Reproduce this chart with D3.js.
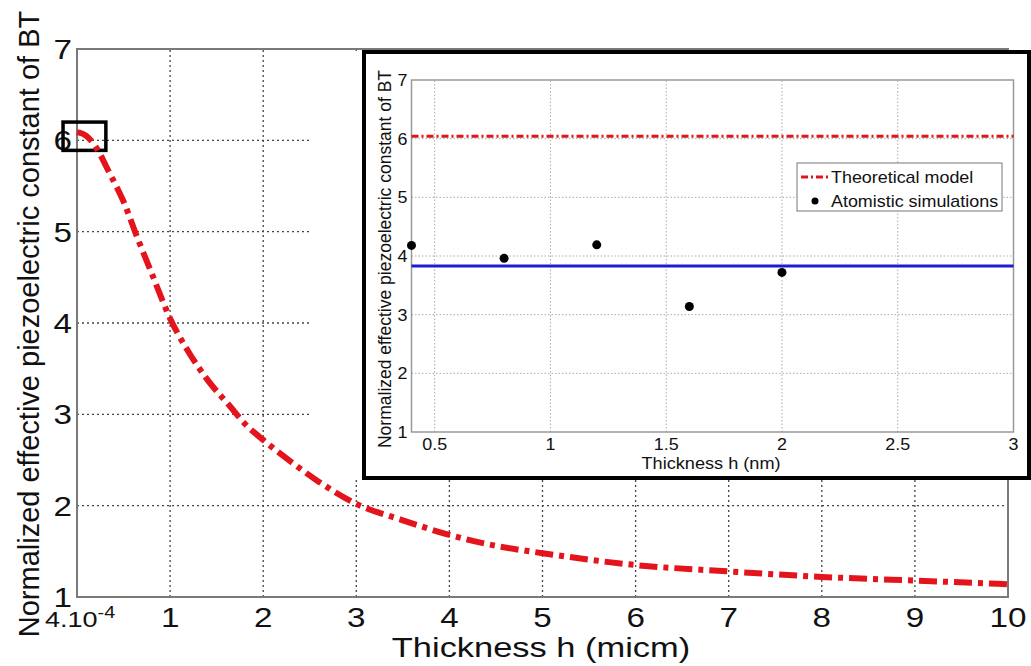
<!DOCTYPE html>
<html>
<head>
<meta charset="utf-8">
<script src="https://cdn.jsdelivr.net/npm/d3@7"></script>
<style>
  html, body { margin: 0; padding: 0; background: #fff; }
  svg { display: block; }
</style>
</head>
<body>
<div id="chart"></div>
<script>
// main curve: normalized piezo constant vs thickness (micrometres)
const thickness = [0.0004, 0.1, 0.2, 0.35, 0.5, 0.65, 0.8, 1.0, 1.2, 1.4, 1.65, 1.8, 2.0, 2.3, 2.6, 3.0, 3.5, 4.0, 4.5, 5.0, 6.0, 7.0, 8.0, 9.0, 10.0];
const piezo = [6.09, 6.05, 5.93, 5.64, 5.33, 4.93, 4.55, 4.05, 3.68, 3.38, 3.08, 2.9, 2.72, 2.48, 2.26, 2.02, 1.84, 1.68, 1.56, 1.48, 1.35, 1.28, 1.22, 1.18, 1.14];

// inset: atomistic simulations (nm)
const simThickness = [0.4, 0.8, 1.2, 1.6, 2.0];
const simPiezo = [4.18, 3.96, 4.19, 3.14, 3.72];
const theoryLevel = 6.04;
const meanLevel = 3.83;

// zoom box drawn on the main plot (data coords)
const zoomBoxX = [-0.15, 0.31];
const zoomBoxY = [5.89, 6.2];

// ticks
const mainXTicks = [0, 1, 2, 3, 4, 5, 6, 7, 8, 9, 10];
const mainYTicks = [1, 2, 3, 4, 5, 6, 7];
const insetXTicks = [0.5, 1, 1.5, 2, 2.5, 3];
const insetYTicks = [1, 2, 3, 4, 5, 6, 7];

const FONT = "Arial, 'Liberation Sans', sans-serif";
const W = 1031, H = 666;

const svg = d3.select("#chart").append("svg")
  .attr("width", W)
  .attr("height", H);

// the source picture is stretched sideways, so flat text gets a horizontal scale
function label(g, x, y, str, size, anchor, sx, rotate) {
  return g.append("text")
    .attr("transform", rotate
      ? `translate(${x},${y}) rotate(-90)`
      : `translate(${x},${y}) scale(${sx},1)`)
    .attr("text-anchor", anchor)
    .attr("font-family", FONT)
    .attr("font-size", size)
    .attr("fill", "#111")
    .text(str);
}

// ---------- main plot ----------
const x = d3.scaleLinear().domain([0, 10]).range([77, 1008]);
const y = d3.scaleLinear().domain([1, 7]).range([597, 49]);

const grid = svg.append("g")
  .attr("stroke", "#444")
  .attr("stroke-width", 1.3)
  .attr("stroke-dasharray", "2,3");

grid.selectAll(".vx")
  .data(mainXTicks.slice(1, -1))
  .enter().append("line")
  .attr("x1", d => x(d)).attr("x2", d => x(d))
  .attr("y1", y(1)).attr("y2", y(7));

grid.selectAll(".hy")
  .data(mainYTicks.slice(1, -1))
  .enter().append("line")
  .attr("x1", x(0)).attr("x2", x(10))
  .attr("y1", d => y(d)).attr("y2", d => y(d));

// axes frame
svg.append("rect")
  .attr("x", x(0)).attr("y", y(7))
  .attr("width", x(10) - x(0)).attr("height", y(1) - y(7))
  .attr("fill", "none")
  .attr("stroke", "#7a7a7a")
  .attr("stroke-width", 2);

// tick labels
const mainText = svg.append("g");
mainYTicks.forEach(v => {
  label(mainText, x(0) - 5, y(v) + 10, String(v), 27, "end", 1.23);
});
mainXTicks.slice(1).forEach(v => {
  label(mainText, x(v), 627, String(v), 27, "middle", 1.23);
});
// first x tick shows the real start thickness 4.10^-4
const t0 = label(mainText, x(0) + 3, 627, "", 22, "middle", 1.23);
t0.append("tspan").text("4.10");
t0.append("tspan").attr("dy", -9).attr("font-size", 16).text("-4");

// axis titles
label(mainText, 541, 657, "Thickness h (micm)", 28, "middle", 1.23);
label(mainText, 39, 324, "Normalized effective piezoelectric constant of BT", 29, "middle", 1, true);

// zoom box near the start of the curve
svg.append("rect")
  .attr("x", x(zoomBoxX[0])).attr("y", y(zoomBoxY[1]))
  .attr("width", x(zoomBoxX[1]) - x(zoomBoxX[0]))
  .attr("height", y(zoomBoxY[0]) - y(zoomBoxY[1]))
  .attr("fill", "none")
  .attr("stroke", "#000")
  .attr("stroke-width", 3.5);

// white area behind the inset
svg.append("rect")
  .attr("x", 312).attr("y", 51)
  .attr("width", W - 312).attr("height", 429)
  .attr("fill", "#fff");

// main curve
const line = d3.line()
  .x((d, i) => x(thickness[i]))
  .y(d => y(d))
  .curve(d3.curveMonotoneX);

svg.append("path")
  .datum(piezo)
  .attr("d", line)
  .attr("fill", "none")
  .attr("stroke", "#e3141b")
  .attr("stroke-width", 6)
  .attr("stroke-dasharray", "18,6,5,6");

// ---------- inset ----------
const ix = d3.scaleLinear().domain([0.4, 3]).range([411.5, 1013.5]);
const iy = d3.scaleLinear().domain([1, 7]).range([432, 80]);

const inset = svg.append("g");

const igrid = inset.append("g")
  .attr("stroke", "#aaa")
  .attr("stroke-width", 1)
  .attr("stroke-dasharray", "1.5,2");

igrid.selectAll(".ivx")
  .data(insetXTicks.slice(0, -1))
  .enter().append("line")
  .attr("x1", d => ix(d)).attr("x2", d => ix(d))
  .attr("y1", iy(1)).attr("y2", iy(7));

igrid.selectAll(".ihy")
  .data(insetYTicks.slice(1, -1))
  .enter().append("line")
  .attr("x1", ix(0.4)).attr("x2", ix(3))
  .attr("y1", d => iy(d)).attr("y2", d => iy(d));

inset.append("rect")
  .attr("x", ix(0.4)).attr("y", iy(7))
  .attr("width", ix(3) - ix(0.4)).attr("height", iy(1) - iy(7))
  .attr("fill", "none")
  .attr("stroke", "#999")
  .attr("stroke-width", 1.5);

// theoretical model level
inset.append("line")
  .attr("x1", ix(0.4)).attr("x2", ix(3))
  .attr("y1", iy(theoryLevel)).attr("y2", iy(theoryLevel))
  .attr("stroke", "#e0141b")
  .attr("stroke-width", 3)
  .attr("stroke-dasharray", "7,3,2,3");

// mean of simulations
inset.append("line")
  .attr("x1", ix(0.4)).attr("x2", ix(3))
  .attr("y1", iy(meanLevel)).attr("y2", iy(meanLevel))
  .attr("stroke", "#1c1cd0")
  .attr("stroke-width", 3);

// simulation points
inset.selectAll(".sim")
  .data(simPiezo)
  .enter().append("circle")
  .attr("cx", (d, i) => ix(simThickness[i]))
  .attr("cy", d => iy(d))
  .attr("r", 4.5)
  .attr("fill", "#000");

// inset tick labels + titles
insetYTicks.forEach(v => {
  label(inset, ix(0.4) - 4, iy(v) + 6, String(v), 16, "end", 1.12);
});
insetXTicks.forEach(v => {
  label(inset, ix(v), 450, String(v), 16, "middle", 1.12);
});
label(inset, 711, 469, "Thickness h (nm)", 16.5, "middle", 1.1);
label(inset, 391, 259, "Normalized effective piezoelectric constant of BT", 17.5, "middle", 1, true);

// legend
const legend = inset.append("g");
legend.append("rect")
  .attr("x", 797).attr("y", 163)
  .attr("width", 205).attr("height", 48)
  .attr("fill", "#fff")
  .attr("stroke", "#777")
  .attr("stroke-width", 1);
legend.append("line")
  .attr("x1", 801).attr("x2", 829)
  .attr("y1", 177).attr("y2", 177)
  .attr("stroke", "#e0141b")
  .attr("stroke-width", 3)
  .attr("stroke-dasharray", "7,3,2,3");
legend.append("circle")
  .attr("cx", 815).attr("cy", 201).attr("r", 3.5)
  .attr("fill", "#000");
label(legend, 831, 183, "Theoretical model", 16, "start", 1.12);
label(legend, 831, 207, "Atomistic simulations", 16, "start", 1.12);

// thick black border around the inset
svg.append("rect")
  .attr("x", 364).attr("y", 52)
  .attr("width", 665).attr("height", 426)
  .attr("fill", "none")
  .attr("stroke", "#000")
  .attr("stroke-width", 4);
</script>
</body>
</html>
